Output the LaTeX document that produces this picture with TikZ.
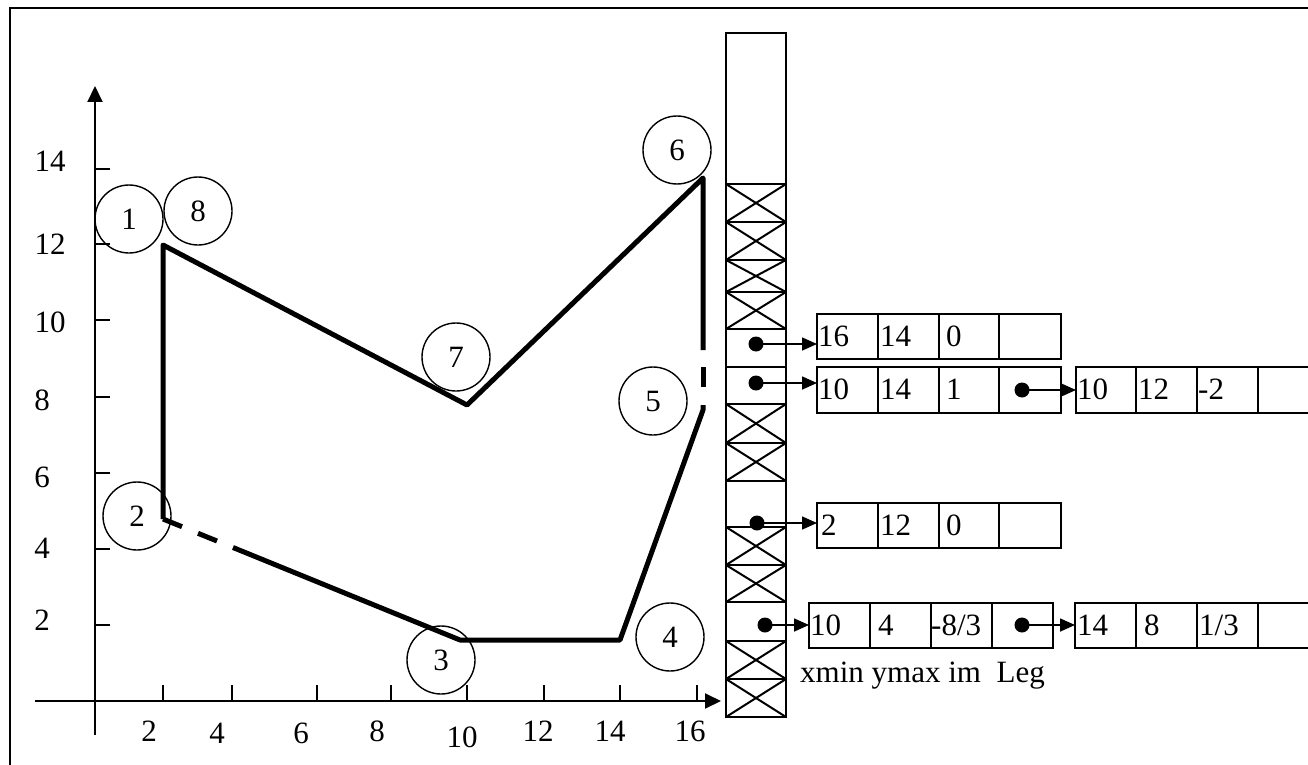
\documentclass[tikz,border=0pt]{standalone}
\usepackage{fontspec}
\setmainfont{Liberation Serif}
\usetikzlibrary{arrows.meta}
\begin{document}
\begin{tikzpicture}[x=1pt,y=-1pt,
  txt/.style={font=\fontsize{31}{33}\selectfont, inner sep=0pt},
  lft/.style={txt, anchor=west},
  axisline/.style={line width=2pt},
  tickline/.style={line width=2pt},
  poly/.style={line width=5pt, line join=round},
  polyd/.style={line width=5pt},
  vtx/.style={draw, circle, line width=1.4pt, minimum size=68pt, inner sep=0pt, font=\fontsize{31}{33}\selectfont},
  boxline/.style={line width=2pt},
  col/.style={line width=2pt},
  ptr/.style={line width=1.6pt, -{Triangle[length=15pt,width=13pt]}},
  dotn/.style={circle, fill=black, minimum size=15pt, inner sep=0pt},
  arrowtip/.style={-{Triangle[length=16pt,width=15pt]}}
]
\useasboundingbox (0,0) rectangle (1308,765);
% frame (top and left edges)
\draw[line width=2pt] (10,765) -- (10,8) -- (1308,8);

% axes
\coordinate (ybot) at (95,735);
\coordinate (ytop) at (95,86);
\coordinate (xleft) at (35,701);
\coordinate (xright) at (721,701);
\draw[axisline, arrowtip] (ybot) -- (ytop);
\draw[axisline, arrowtip] (xleft) -- (xright);

% y ticks
\foreach \yy in {169,244,320,397,473,549,625}
  \draw[tickline] (95,\yy) -- (110,\yy);
% x ticks
\foreach \xx in {163,232,317,391,467,544,620,697}
  \draw[tickline] (\xx,701) -- (\xx,685);

% y labels
\node[txt] (yl14) at (50,161) {14};
\node[txt] (yl12) at (50,244) {12};
\node[txt] (yl10) at (50,322) {10};
\node[txt] (yl8) at (42,400) {8};
\node[txt] (yl6) at (42,477) {6};
\node[txt] (yl4) at (42,548) {4};
\node[txt] (yl2) at (42,620) {2};
% x labels
\node[txt] (xl2) at (149,731) {2};
\node[txt] (xl4) at (217,733) {4};
\node[txt] (xl6) at (301,733) {6};
\node[txt] (xl8) at (377,731) {8};
\node[txt] (xl10) at (462,737) {10};
\node[txt] (xl12) at (538,731) {12};
\node[txt] (xl14) at (610,731) {14};
\node[txt] (xl16) at (690,731) {16};

% polygon vertices
\coordinate (p1) at (163,245);
\coordinate (p2) at (163,519);
\coordinate (p3) at (460,640);
\coordinate (p4) at (620,640);
\coordinate (p5) at (703,410);
\coordinate (p6) at (703,178);
\coordinate (p7) at (467,405);
\coordinate (v1) at (703,350);
\coordinate (v2) at (703,367);
\coordinate (v3) at (703,387);
\coordinate (v4) at (703,405);
\coordinate (d1) at (182,526.7);
\coordinate (d2) at (198,533.3);
\coordinate (d3) at (217,541);
\coordinate (d4) at (233,547.5);

\draw[poly] (p2) -- (p1) -- (p7) -- (p6) -- (v1);
\draw[polyd] (v2) -- (v3);
\draw[poly] (v4) -- (p5) -- (p4) -- (p3) -- (d4);
\draw[polyd] (d3) -- (d2);
\draw[polyd] (d1) -- (p2);

% vertex circles
\node[vtx] (c1) at (129,219) {1};
\node[vtx] (c8) at (198,211) {8};
\node[vtx] (c2) at (137,516) {2};
\node[vtx] (c7) at (456,357) {7};
\node[vtx] (c6) at (677,150) {6};
\node[vtx] (c5) at (653,401) {5};
\node[vtx] (c3) at (441,660) {3};
\node[vtx] (c4) at (670,637) {4};

% edge table column
\draw[col] (726,33) rectangle (786,717);
\foreach \yy in {184,222,260,292,329,367,404,443,481,527,565,602,641,679}
  \draw[col] (726,\yy) -- (786,\yy);
\foreach \ya/\yb in {184/222,222/260,260/292,292/329,404/443,443/481,527/565,565/602,641/679,679/717}{
  \draw[col] (726,\ya) -- (786,\yb);
  \draw[col] (726,\yb) -- (786,\ya);
}

% Row A
\draw[boxline] (817,314) rectangle (1061,359);
\foreach \xx in {878,939,999} \draw[boxline] (\xx,314) -- (\xx,359);
\node[lft] (a1) at (818,336) {16};
\node[lft] (a2) at (880,336) {14};
\node[lft] (a3) at (946,336) {0};
\node[dotn] (dA) at (756,344) {};
\coordinate (tA) at (817,344);
\draw[ptr] (dA.center) -- (tA);

% Row B
\draw[boxline] (817,367) rectangle (1061,413);
\foreach \xx in {878,939,999} \draw[boxline] (\xx,367) -- (\xx,413);
\node[lft] (b1) at (818,389) {10};
\node[lft] (b2) at (880,389) {14};
\node[lft] (b3) at (946,389) {1};
\node[dotn] (dB) at (756,383) {};
\coordinate (tB) at (817,383);
\draw[ptr] (dB.center) -- (tB);
\node[dotn] (dB2) at (1022,390) {};
\coordinate (tB2) at (1076,390);
\draw[ptr] (dB2.center) -- (tB2);

% Row B2
\draw[boxline] (1308,367) -- (1076,367) -- (1076,413) -- (1308,413);
\foreach \xx in {1136,1197,1258} \draw[boxline] (\xx,367) -- (\xx,413);
\node[lft] (e1) at (1077,389) {10};
\node[lft] (e2) at (1138,389) {12};
\node[lft] (e3) at (1198,389) {-2};

% Row C
\draw[boxline] (817,503) rectangle (1061,548);
\foreach \xx in {878,939,999} \draw[boxline] (\xx,503) -- (\xx,548);
\node[lft] (f1) at (821,525) {2};
\node[lft] (f2) at (880,525) {12};
\node[lft] (f3) at (946,525) {0};
\node[dotn] (dC) at (757,523) {};
\coordinate (tC) at (817,523);
\draw[ptr] (dC.center) -- (tC);

% Row D
\draw[boxline] (809,603) rectangle (1053,648);
\foreach \xx in {870,931,992} \draw[boxline] (\xx,603) -- (\xx,648);
\node[lft] (g1) at (810,625) {10};
\node[lft] (g2) at (878,625) {4};
\node[lft] (g3) at (931,625) {-8/3};
\node[dotn] (dD) at (765,625) {};
\coordinate (tD) at (809,625);
\draw[ptr] (dD.center) -- (tD);
\node[dotn] (dD2) at (1022,625) {};
\coordinate (tD2) at (1075,625);
\draw[ptr] (dD2.center) -- (tD2);

% Row D2
\draw[boxline] (1308,603) -- (1075,603) -- (1075,648) -- (1308,648);
\foreach \xx in {1136,1197,1258} \draw[boxline] (\xx,603) -- (\xx,648);
\node[lft] (h1) at (1077,625) {14};
\node[lft] (h2) at (1144,625) {8};
\node[lft] (h3) at (1199,625) {1/3};

% field legend
\node[txt, anchor=base west] (legend) at (800,682) {xmin ymax im\ \ Leg};
\end{tikzpicture}
\end{document}
